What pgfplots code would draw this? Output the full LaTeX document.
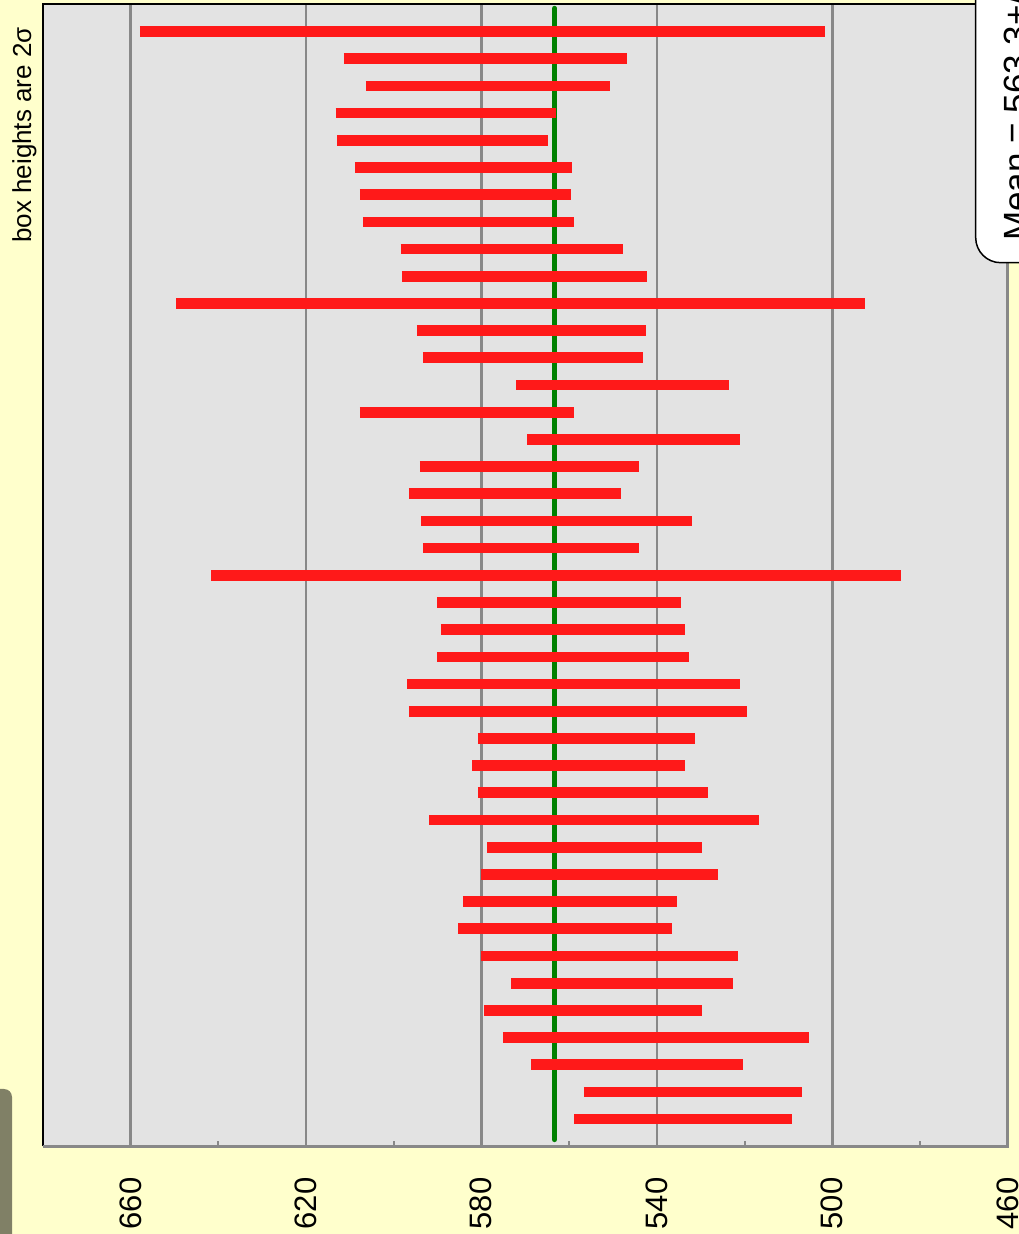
\documentclass[border=0pt]{standalone}
\usepackage{pgfplots}
\pgfplotsset{compat=1.18}
\usepackage{pgfplotstable}
\usepackage{fontspec}
\setmainfont{Liberation Sans}
\definecolor{bgyellow}{RGB}{255,255,204}
\definecolor{plotbg}{RGB}{227,227,227}
\definecolor{gridgray}{RGB}{136,136,136}
\definecolor{barred}{RGB}{255,25,25}
\definecolor{meangreen}{RGB}{0,128,0}
\definecolor{olivegray}{RGB}{128,128,102}
\pgfplotstableread{
x y
657.8 1
501.7 1
nan nan
611.3 2
546.7 2
nan nan
606.3 3
550.7 3
nan nan
613.2 4
563.0 4
nan nan
612.8 5
564.8 5
nan nan
608.8 6
559.3 6
nan nan
607.7 7
559.6 7
nan nan
607.0 8
558.9 8
nan nan
598.4 9
547.8 9
nan nan
598.1 10
542.2 10
nan nan
649.5 11
492.6 11
nan nan
594.7 12
542.5 12
nan nan
593.3 13
543.2 13
nan nan
572.0 14
523.6 14
nan nan
607.7 15
558.9 15
nan nan
569.5 16
521.0 16
nan nan
594.0 17
544.0 17
nan nan
596.5 18
548.2 18
nan nan
593.7 19
532.0 19
nan nan
593.3 20
544.0 20
nan nan
641.5 21
484.3 21
nan nan
590.1 22
534.6 22
nan nan
589.2 23
533.6 23
nan nan
590.1 24
532.7 24
nan nan
596.9 25
521.0 25
nan nan
596.5 26
519.4 26
nan nan
580.8 27
531.3 27
nan nan
582.1 28
533.6 28
nan nan
580.8 29
528.3 29
nan nan
591.9 30
516.7 30
nan nan
578.7 31
529.7 31
nan nan
580.1 32
526.1 32
nan nan
584.2 33
535.4 33
nan nan
585.3 34
536.5 34
nan nan
580.1 35
521.5 35
nan nan
573.2 36
522.6 36
nan nan
579.4 37
529.7 37
nan nan
575.1 38
505.4 38
nan nan
568.7 39
520.4 39
nan nan
556.6 40
506.8 40
nan nan
558.8 41
509.2 41
}\bardata
\begin{document}
\begin{tikzpicture}[x=1pt,y=1pt]
\begin{scope}
\clip (0,0) rectangle (1019,1234);
\fill[bgyellow] (0,0) rectangle (1019,1234);
\fill[olivegray, rounded corners=8pt] (-30,-30) rectangle (12,145);
\begin{axis}[at={(42.6pt,87.7pt)}, anchor=south west, scale only axis,
  width=965.2pt, height=1142pt,
  xmin=460, xmax=680, x dir=reverse,
  ymin=0, ymax=42, y dir=reverse,
  axis background/.style={fill=plotbg},
  axis line style={draw=none},
  xtick={460,500,...,660}, minor xtick={480,520,...,640}, ytick=\empty,
  xmajorgrids=true, major grid style={gridgray, line width=2.6pt},
  tick align=inside, xtick pos=left,
  major tick length=5pt, minor tick length=5pt,
  tick style={gridgray, line width=2pt},
  xticklabel style={rotate=90, anchor=east, inner sep=0pt, font=\fontsize{31}{37}\selectfont},
  xticklabel shift=31pt,
  /pgf/number format/assume math mode=true,
  clip=false]
\addplot[meangreen, line width=5.3pt, line cap=round, mark=none] coordinates {(563.3,0.15) (563.3,41.75)};
\addplot[barred, line width=10.7pt, unbounded coords=jump, mark=none] table[x=x, y=y] {\bardata};
\end{axis}
% frame
\draw[black, line width=2.2pt] (42.6,87.7) -- (42.6,1229.7) -- (1007.8,1229.7);
\draw[gridgray, line width=2.8pt] (42.6,87.7) -- (1007.8,87.7) -- (1007.8,1229.7);
% note
\node[rotate=90, anchor=base west, inner sep=0pt, font=\fontsize{26}{31}\selectfont] at (31,991) {box heights are 2σ};
% legend box
\draw[fill=white, draw=black, line width=1.5pt, rounded corners=25pt] (975.7,971.3) rectangle (1120,1300);
\node[rotate=90, anchor=base west, inner sep=0pt, font=\fontsize{35}{42}\selectfont] at (1028,993) {Mean = 563.3+/-3.4};
\end{scope}
\pgfresetboundingbox
\path[use as bounding box] (0,0) rectangle (1019,1234);
\end{tikzpicture}
\end{document}
